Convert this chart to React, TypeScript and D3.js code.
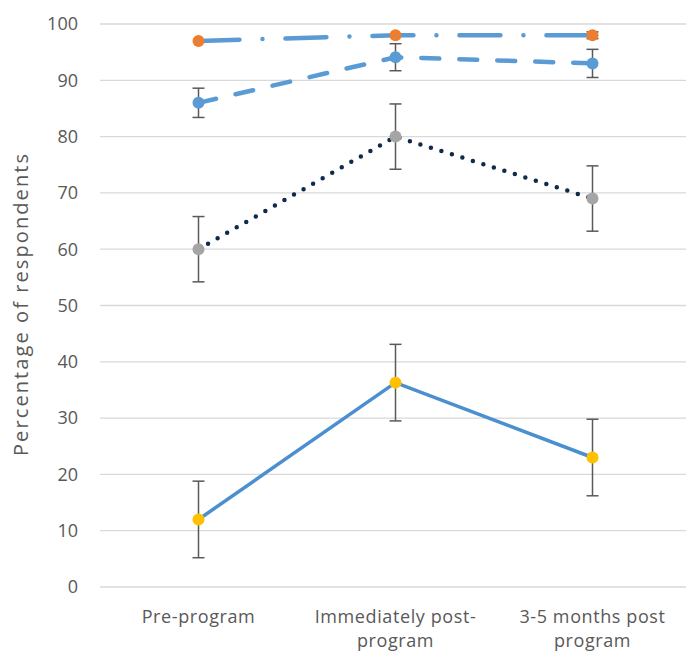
import { useEffect, useRef } from 'react'
import * as d3 from 'd3'

const categories = ['Pre-program', 'Immediately post-program', '3-5 months post program']
const categoryLines = [['Pre-program'], ['Immediately post-', 'program'], ['3-5 months post', 'program']]
const yTicks = [0, 10, 20, 30, 40, 50, 60, 70, 80, 90, 100]

// four outcome series (mean %, error bar half-width)
const seriesA = [97, 98, 98]
const seriesAErr = [0, 0, 0.6]
const seriesB = [86, 94.1, 93]
const seriesBErr = [2.6, 2.4, 2.5]
const seriesC = [60, 80, 69]
const seriesCErr = [5.8, 5.8, 5.8]
const seriesD = [12, 36.3, 23]
const seriesDErr = [6.8, 6.8, 6.8]

interface Series {
  values: number[]
  errors: number[]
  line: string
  marker: string
  dash: string
  width: number
}

const series: Series[] = [
  { values: seriesD, errors: seriesDErr, line: '#4a8fcf', marker: '#ffc000', dash: '', width: 3.5 },
  { values: seriesC, errors: seriesCErr, line: '#0f2a4a', marker: '#a5a5a5', dash: '0,11', width: 4.5 },
  { values: seriesB, errors: seriesBErr, line: '#5b9bd5', marker: '#5b9bd5', dash: '18,20', width: 4.5 },
  { values: seriesA, errors: seriesAErr, line: '#5b9bd5', marker: '#ed7d31', dash: '41,23,0,23', width: 4.5 },
]

export default function App() {
  const svgRef = useRef<SVGSVGElement>(null)
  const width = 686
  const height = 654

  useEffect(() => {
    if (!svgRef.current) return
    const svg = d3.select(svgRef.current)
    svg.selectAll('*').remove()

    const font = '"Open Sans", "Noto Sans", sans-serif'
    const x = d3.scaleBand<string>().domain(categories).range([100, 691])
    const y = d3.scaleLinear().domain([0, 100]).range([587, 24])
    const cx = (i: number) => (x(categories[i]) as number) + x.bandwidth() / 2

    // grid
    svg
      .append('g')
      .selectAll('line')
      .data(yTicks)
      .enter()
      .append('line')
      .attr('x1', 100)
      .attr('x2', 686)
      .attr('y1', (d) => y(d))
      .attr('y2', (d) => y(d))
      .attr('stroke', '#d9d9d9')
      .attr('stroke-width', 1.3)

    // y tick labels
    svg
      .append('g')
      .selectAll('text')
      .data(yTicks)
      .enter()
      .append('text')
      .attr('x', 78)
      .attr('y', (d) => y(d))
      .attr('dy', '0.35em')
      .attr('text-anchor', 'end')
      .attr('fill', '#595959')
      .attr('font-family', font)
      .attr('font-size', '18px')
      .text((d) => d)

    // y title
    svg
      .append('text')
      .attr('transform', `translate(28,305) rotate(-90)`)
      .attr('text-anchor', 'middle')
      .attr('fill', '#595959')
      .attr('font-family', font)
      .attr('font-size', '20px')
      .attr('textLength', 302)
      .attr('lengthAdjust', 'spacing')
      .text('Percentage of respondents')

    // category labels
    categoryLines.forEach((lines, i) => {
      const t = svg
        .append('text')
        .attr('x', cx(i))
        .attr('y', 623)
        .attr('text-anchor', 'middle')
        .attr('fill', '#595959')
        .attr('font-family', font)
        .attr('font-size', '18px')
        .attr('letter-spacing', '0.6px')
      lines.forEach((l, j) => {
        t.append('tspan').attr('x', cx(i)).attr('dy', j === 0 ? 0 : 24).text(l)
      })
    })

    const line = d3
      .line<number>()
      .x((_, i) => cx(i))
      .y((d) => y(d))

    series.forEach((s) => {
      svg
        .append('path')
        .datum(s.values)
        .attr('d', line)
        .attr('fill', 'none')
        .attr('stroke', s.line)
        .attr('stroke-width', s.width)
        .attr('stroke-linecap', 'round')
        .attr('stroke-dasharray', s.dash || null)
    })

    series.forEach((s) => {
      const g = svg.append('g')
      s.values.forEach((v, i) => {
        const e = s.errors[i]
        if (!e) return
        const xi = cx(i)
        g.append('line')
          .attr('x1', xi)
          .attr('x2', xi)
          .attr('y1', y(v - e))
          .attr('y2', y(v + e))
          .attr('stroke', '#595959')
          .attr('stroke-width', 1.5)
        ;[v - e, v + e].forEach((w) => {
          g.append('line')
            .attr('x1', xi - 6)
            .attr('x2', xi + 6)
            .attr('y1', y(w))
            .attr('y2', y(w))
            .attr('stroke', '#595959')
            .attr('stroke-width', 1.5)
        })
      })
      g.selectAll('circle')
        .data(s.values)
        .enter()
        .append('circle')
        .attr('cx', (_, i) => cx(i))
        .attr('cy', (d) => y(d))
        .attr('r', 6)
        .attr('fill', s.marker)
    })
  }, [])

  return (
    <svg
      ref={svgRef}
      width={width}
      height={height}
      style={{ position: 'absolute', left: 0, top: 0, background: '#fff' }}
    />
  )
}
